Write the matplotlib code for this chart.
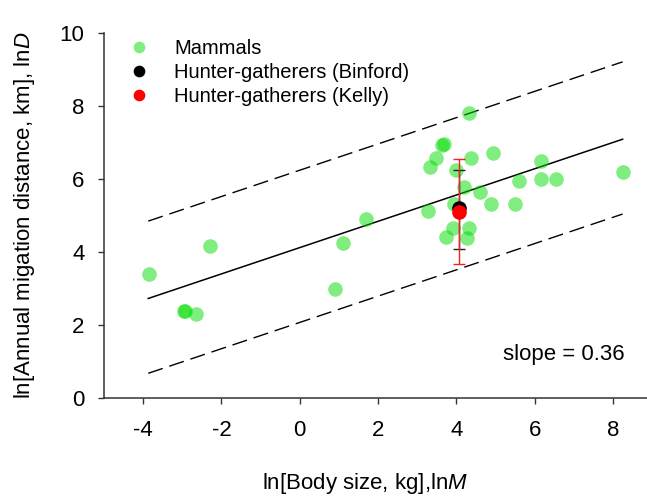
import matplotlib
matplotlib.use("Agg")
import matplotlib.pyplot as plt
import numpy as np

plt.rcParams['font.family'] = ['Liberation Sans', 'DejaVu Sans']
plt.rcParams['mathtext.fontset'] = 'custom'
plt.rcParams['mathtext.rm'] = 'Liberation Sans'
plt.rcParams['mathtext.it'] = 'Liberation Sans:italic'
plt.rcParams['axes.unicode_minus'] = False

# Mammals data (lnM, lnD)
mammal_x = [-3.85, -2.30, -2.95, -2.92, -2.65, 0.89, 1.11, 1.69, 3.29, 3.32, 3.47,
            3.64, 3.69, 3.74, 3.91, 3.93, 4.00, 4.19, 4.27, 4.32, 4.32, 4.38,
            4.60, 4.88, 4.93, 5.49, 5.60, 6.17, 6.17, 6.54, 8.25]
mammal_y = [3.40, 4.16, 2.37, 2.38, 2.29, 3.00, 4.26, 4.90, 5.13, 6.34, 6.58,
            6.93, 6.95, 4.42, 4.67, 5.31, 6.26, 5.77, 4.39, 4.67, 7.80, 6.57,
            5.65, 5.31, 6.70, 5.31, 5.95, 6.49, 6.00, 6.00, 6.18]

# Hunter-gatherers
binford_x = [4.08]
binford_y = [5.21]
binford_err_low = [1.13]
binford_err_high = [1.03]

kelly_x = [4.08]
kelly_y = [5.10]
kelly_err_low = [1.44]
kelly_err_high = [1.44]

# Regression and prediction band
slope = 0.36
intercept = 4.12
band_upper = 2.12
band_lower = 2.05
fit_x_range = [-3.87, 8.25]

x_ticks = [-4, -2, 0, 2, 4, 6, 8]
y_ticks = [0, 2, 4, 6, 8, 10]

W, H = 647, 498
fig = plt.figure(figsize=(W / 100, H / 100), dpi=100)
ax_left, ax_right, ax_top, ax_bottom = 104, 652, 33, 398
ax = fig.add_axes([ax_left / W, (H - ax_bottom) / H,
                   (ax_right - ax_left) / W, (ax_bottom - ax_top) / H])

ax.set_xlim(-5, 9)
ax.set_ylim(0, 10)

fx = np.array(fit_x_range)
fy = intercept + slope * fx
ax.plot(fx, fy, color='black', lw=1.1, zorder=2)
ax.plot(fx, fy + band_upper, color='black', lw=1.0, ls=(0, (11, 5)), zorder=2)
ax.plot(fx, fy - band_lower, color='black', lw=1.0, ls=(0, (11, 5)), zorder=2)

ms = 10.5
ax.plot(mammal_x, mammal_y, 'o', ms=ms, color='#00dd00', alpha=0.5, mec='none',
        label='Mammals', zorder=3)

ax.errorbar(binford_x, binford_y, yerr=[binford_err_low, binford_err_high],
            fmt='none', ecolor='#222222', elinewidth=1.0, capsize=4.5, capthick=1.0, zorder=4)
ax.errorbar(kelly_x, kelly_y, yerr=[kelly_err_low, kelly_err_high],
            fmt='none', ecolor='#ee2020', elinewidth=1.0, capsize=4.5, capthick=1.0, zorder=4)
ax.plot(binford_x, binford_y, 'o', ms=ms, color='black', mec='none',
        label='Hunter-gatherers (Binford)', zorder=5)
ax.plot(kelly_x, kelly_y, 'o', ms=ms, color='#ff0000', mec='none',
        label='Hunter-gatherers (Kelly)', zorder=6)

ax.spines['top'].set_visible(False)
ax.spines['right'].set_visible(False)
for s in ['left', 'bottom']:
    ax.spines[s].set_linewidth(1.1)
    ax.spines[s].set_color('#333333')

ax.set_xticks(x_ticks)
ax.set_yticks(y_ticks)
ax.tick_params(direction='out', length=4, width=1, colors='#333333',
               labelsize=16, labelcolor='black')
ax.tick_params(axis='y', pad=10)
ax.tick_params(axis='x', pad=12)

ax.set_xlabel(r'ln[Body size, kg],ln$\mathit{M}$', fontsize=16)
ax.xaxis.set_label_coords((365 - ax_left) / (ax_right - ax_left), -0.2)
ax.set_ylabel(r'ln[Annual migation distance, km], ln$\mathit{D}$', fontsize=16, labelpad=16)

ax.text(8.3, 1.2, 'slope = 0.36', fontsize=16, ha='right', va='center')

leg = ax.legend(loc='upper left', frameon=False, fontsize=14.5, handletextpad=1.25,
                borderaxespad=0.0, labelspacing=0.25, handlelength=1.0,
                markerscale=0.8, bbox_to_anchor=(0.031, 1.005))

fig.savefig('out.png', dpi=100)
